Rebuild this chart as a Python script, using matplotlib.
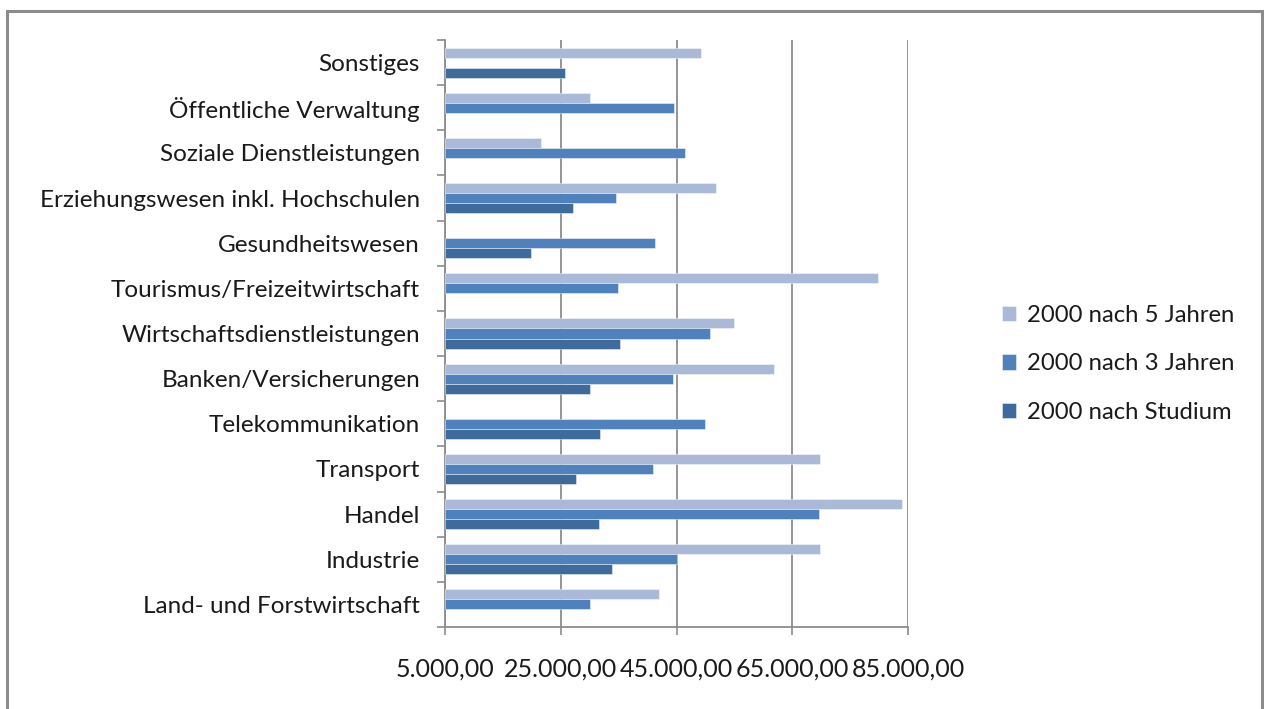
import matplotlib
matplotlib.use("Agg")
import matplotlib.pyplot as plt
from matplotlib.patches import Rectangle
from matplotlib.ticker import FuncFormatter, FixedLocator
import numpy as np

plt.rcParams['font.family'] = ['Lato', 'DejaVu Sans']

# Branches, bottom to top
categories = [
    "Land- und Forstwirtschaft",
    "Industrie",
    "Handel",
    "Transport",
    "Telekommunikation",
    "Banken/Versicherungen",
    "Wirtschaftsdienstleistungen",
    "Tourismus/Freizeitwirtschaft",
    "Gesundheitswesen",
    "Erziehungswesen inkl. Hochschulen",
    "Soziale Dienstleistungen",
    "Öffentliche Verwaltung",
    "Sonstiges",
]

# Income in EUR; None = no value reported
nach_5_jahren = [42000, 69800, 84000, 69800, None, 61900, 55000, 79800, None, 51900, 21600, 30000, 49300]
nach_3_jahren = [30000, 45100, 69600, 40900, 50000, 44400, 50800, 34900, 41300, 34500, 46400, 44600, None]
nach_studium  = [None, 33800, 31600, 27600, 31800, 30000, 35300, None, 19900, 27200, None, None, 25800]

series_labels = ["2000 nach 5 Jahren", "2000 nach 3 Jahren", "2000 nach Studium"]
series_colors = ["#AAB9D7", "#4F81BD", "#3F6A9C"]

x_ticks = [5000, 25000, 45000, 65000, 85000]

W, H = 1264, 709
fig = plt.figure(figsize=(W / 100, H / 100), dpi=100)

# outer chart frame (open at the bottom)
fig.patches.append(Rectangle((7 / W, -0.05), (1262 - 7) / W, 1.05 - 11 / H,
                             transform=fig.transFigure, fill=False,
                             edgecolor="#8C8C8C", linewidth=2.2, zorder=0))

ax = fig.add_axes([445 / W, 1 - 627 / H, (908 - 445) / W, (627 - 40) / H])

y = np.arange(len(categories))
h = 0.222
offsets = [h, 0.0, -h]
for vals, off, col, lab in zip([nach_5_jahren, nach_3_jahren, nach_studium],
                               offsets, series_colors, series_labels):
    v = np.array([np.nan if a is None else a for a in vals], dtype=float)
    ax.barh(y + off, v - 5000, left=5000, height=h, color=col,
            edgecolor=(1, 1, 1, 0.45), linewidth=0.7, label=lab, zorder=3)

ax.set_xlim(5000, 85000)
ax.set_ylim(-0.5, len(categories) - 0.5)

ax.xaxis.set_major_locator(FixedLocator(x_ticks))
ax.xaxis.set_major_formatter(FuncFormatter(
    lambda v, p: f"{v:,.2f}".replace(",", "X").replace(".", ",").replace("X", ".")))
ax.grid(axis="x", color="#8C8C8C", linewidth=1.3, zorder=0)

ax.set_yticks(y)
ax.set_yticklabels(categories)
ax.set_yticks(np.arange(-0.5, len(categories), 1.0), minor=True)
ax.tick_params(axis="y", which="major", length=0, pad=18, labelsize=17.5, labelcolor="#1A1A1A")
ax.tick_params(axis="y", which="minor", length=6, width=1.2, color="#8C8C8C")
ax.tick_params(axis="x", which="major", length=6, width=1.2, color="#8C8C8C",
               pad=16, labelsize=18, labelcolor="#1A1A1A")

for s in ["top", "right"]:
    ax.spines[s].set_visible(False)
for s in ["left", "bottom"]:
    ax.spines[s].set_color("#8C8C8C")
    ax.spines[s].set_linewidth(1.3)

leg = ax.legend(loc="center left", bbox_to_anchor=(980 / W, 1 - 364 / H),
                bbox_transform=fig.transFigure, frameon=False, fontsize=17.2,
                handlelength=0.6, handleheight=0.6, handletextpad=0.45,
                labelspacing=1.14, labelcolor="#1A1A1A")

fig.savefig("out.png", dpi=100, facecolor="white")
